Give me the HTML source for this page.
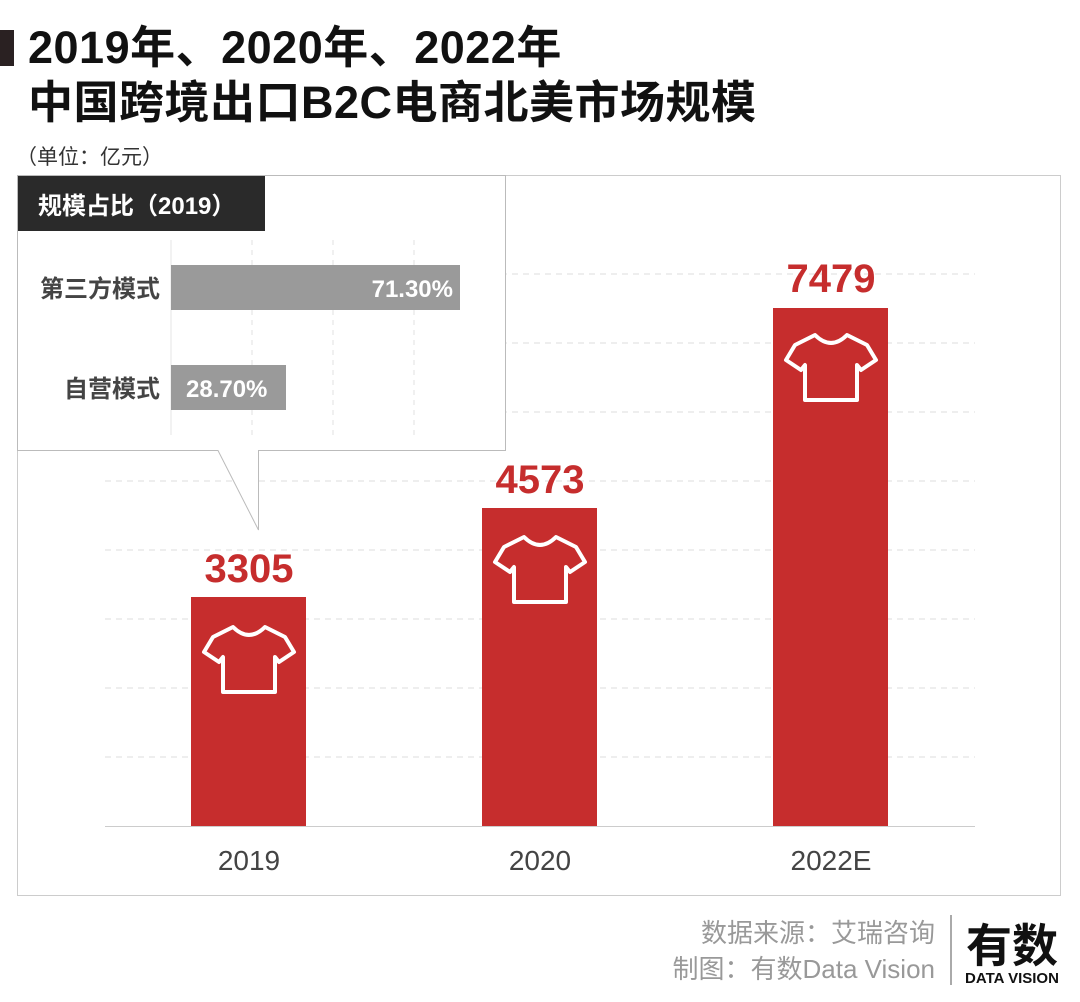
<!DOCTYPE html>
<html><head><meta charset="utf-8"><style>
body{margin:0;width:1080px;height:1002px;background:#fff;position:relative;overflow:hidden;font-family:"Liberation Sans","Noto Sans CJK SC",sans-serif}
.a{position:absolute}
</style></head><body>
<div class="a" style="left:0;top:30px;width:14px;height:36px;background:#2a2122"></div>
<div class="a" style="left:28px;top:20px;font-size:45px;font-weight:bold;color:#111;line-height:55px;white-space:nowrap;letter-spacing:0.5px">2019年、2020年、2022年<br>中国跨境出口B2C电商北美市场规模</div>
<div class="a" style="left:16px;top:141px;font-size:21px;color:#333">（单位：亿元）</div>
<svg class="a" style="left:0;top:0" width="1080" height="1002">
<rect x="17.5" y="175.5" width="1043" height="720" fill="none" stroke="#ccc"/>
<g stroke="#ddd" stroke-dasharray="6,5">
<line x1="105" x2="975" y1="274" y2="274"/><line x1="105" x2="975" y1="343" y2="343"/>
<line x1="105" x2="975" y1="412" y2="412"/><line x1="105" x2="975" y1="481" y2="481"/>
<line x1="105" x2="975" y1="550" y2="550"/><line x1="105" x2="975" y1="619" y2="619"/>
<line x1="105" x2="975" y1="688" y2="688"/><line x1="105" x2="975" y1="757" y2="757"/>
</g>
<line x1="105" x2="975" y1="826.5" y2="826.5" stroke="#ccc"/>
<rect x="191" y="597" width="115" height="229" fill="#c62d2d"/>
<rect x="482" y="508" width="115" height="318" fill="#c62d2d"/>
<rect x="773" y="308" width="115" height="518" fill="#c62d2d"/>
<g font-size="40" font-weight="bold" fill="#c62d2d" text-anchor="middle">
<text x="249" y="582">3305</text><text x="540" y="493">4573</text><text x="831" y="292">7479</text></g>
<g font-size="28" fill="#444" text-anchor="middle">
<text x="249" y="870">2019</text><text x="540" y="870">2020</text><text x="831" y="870">2022E</text></g>
<defs><path id="t" d="M-16,-28 L-36,-18 L-45,-3 L-30,7 L-26,2 L-26,37 L26,37 L26,2 L30,7 L45,-3 L36,-18 L16,-28 Q0,-12 -16,-28 Z" fill="none" stroke="#fff" stroke-width="4" stroke-linejoin="round"/></defs>
<use href="#t" x="249" y="655"/><use href="#t" x="540" y="565"/><use href="#t" x="831" y="363"/>
<path d="M17.5,175.5 L505.5,175.5 L505.5,450.5 L258.5,450.5 L258.5,530 L218,450.5 L17.5,450.5 Z" fill="#fff" stroke="#bbb"/>
<g stroke="#e2e2e2" stroke-dasharray="5,5"><line x1="252" x2="252" y1="240" y2="435"/><line x1="333" x2="333" y1="240" y2="435"/><line x1="414" x2="414" y1="240" y2="435"/></g>
<line x1="171" x2="171" y1="240" y2="435" stroke="#e6e6e6"/>
<rect x="18" y="176" width="247" height="55" fill="#2a2a2a"/>
<text x="38" y="214" font-size="24" font-weight="bold" fill="#fff">规模占比（2019）</text>
<rect x="171" y="265" width="289" height="45" fill="#9a9a9a"/>
<rect x="171" y="365" width="115" height="45" fill="#9a9a9a"/>
<g font-size="24" font-weight="bold"><text x="453" y="297" fill="#fff" text-anchor="end">71.30%</text>
<text x="186" y="397" fill="#fff">28.70%</text>
<text x="160" y="297" fill="#444" text-anchor="end">第三方模式</text>
<text x="160" y="397" fill="#444" text-anchor="end">自营模式</text></g>
<g font-size="26" fill="#999" text-anchor="end"><text x="935" y="942">数据来源：艾瑞咨询</text><text x="935" y="978">制图：有数Data Vision</text></g>
<line x1="951" x2="951" y1="915" y2="985" stroke="#555"/>
<text x="1012" y="962" font-size="46" font-weight="bold" fill="#111" text-anchor="middle">有数</text>
<text x="1012" y="983" font-size="15" font-weight="bold" fill="#111" text-anchor="middle">DATA VISION</text>
</svg>
</body></html>
